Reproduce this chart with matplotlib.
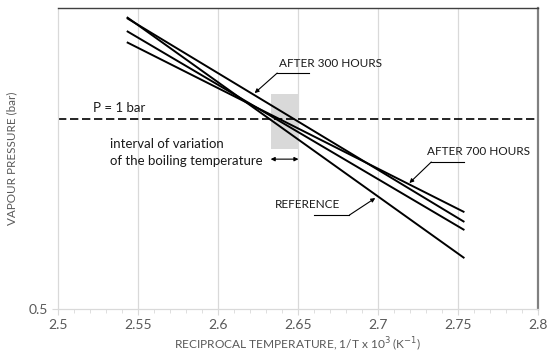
import matplotlib
matplotlib.use("Agg")
import matplotlib.pyplot as plt
import numpy as np
from matplotlib.ticker import FixedLocator, NullFormatter, NullLocator

plt.rcParams['font.family'] = ['Lato', 'DejaVu Sans']

# Data (1/T x 1e3 vs vapour pressure, bar) -- straight lines on log scale
x_start = 2.543
x_end = 2.754
reference = [1.451, 0.602]
after_300 = [1.446, 0.687]
series_c = [1.379, 0.667]
after_700 = [1.324, 0.712]
series = [reference, after_300, series_c, after_700]

x_ticks = [2.5, 2.55, 2.6, 2.65, 2.7, 2.75, 2.8]
x_tick_labels = ['2.5', '2.55', '2.6', '2.65', '2.7', '2.75', '2.8']

box_x = [2.6329, 2.6503]
box_y = [0.896, 1.096]

fig = plt.figure(figsize=(5.5, 3.58), dpi=100)
ax = fig.add_axes([58/550, 1-309/358, (538-58)/550, (309-8)/358])

ax.set_yscale('log')
ax.set_xlim(2.5, 2.8)
ax.set_ylim(0.5, 1.5)

# grid
for xv in x_ticks[1:-1]:
    ax.axvline(xv, color='#d9d9d9', lw=0.9, zorder=0)

# grey interval box
ax.fill_between(box_x, box_y[0], box_y[1], color='#d9d9d9', lw=0, zorder=1)

for s in series:
    ax.plot([x_start, x_end], s, color='black', lw=1.4, zorder=3, solid_capstyle='butt')

ax.axhline(1.0, color='black', lw=1.2, ls=(0, (5, 2.2)), zorder=2)

# ticks
ax.xaxis.set_major_locator(FixedLocator(x_ticks))
ax.set_xticklabels(x_tick_labels)
ax.xaxis.set_minor_locator(FixedLocator(np.round(np.arange(2.5, 2.8001, 0.01), 3)))
ax.yaxis.set_major_locator(FixedLocator([0.5]))
ax.yaxis.set_minor_locator(NullLocator())
ax.yaxis.set_major_formatter(matplotlib.ticker.FixedFormatter(['0.5']))
ax.yaxis.set_minor_formatter(NullFormatter())
ax.tick_params(axis='x', which='major', length=4, color='#d9d9d9', labelsize=10, labelcolor='#595959', pad=3)
ax.tick_params(axis='x', which='minor', length=3, color='#d9d9d9')
ax.tick_params(axis='y', which='major', length=4, color='#d9d9d9', labelsize=10, labelcolor='#595959', pad=3)

for side in ['left', 'bottom']:
    ax.spines[side].set_color('#d9d9d9')
    ax.spines[side].set_linewidth(0.9)
ax.spines['top'].set_color('#404040')
ax.spines['top'].set_linewidth(1.0)
ax.spines['right'].set_color('#808080')
ax.spines['right'].set_linewidth(1.6)

ax.set_xlabel('RECIPROCAL TEMPERATURE, 1/T x 10$^{3}$ (K$^{-1}$)', fontsize=8.6, color='#595959', labelpad=4)
ax.set_ylabel('VAPOUR PRESSURE (bar)', fontsize=8.4, color='#595959', labelpad=8)

tc = '#1a1a1a'
fs = 9.5
fs_caps = 8.5
ax.text(2.5218, 1.04, 'P = 1 bar', fontsize=fs, color=tc, ha='left', va='center')
ax.text(2.5324, 0.9127, 'interval of variation', fontsize=fs, color=tc, ha='left', va='center')
ax.text(2.5324, 0.858, 'of the boiling temperature', fontsize=fs, color=tc, ha='left', va='center')
ax.annotate('', xy=(box_x[0], 0.864), xytext=(box_x[1], 0.864),
            arrowprops=dict(arrowstyle='<|-|>', color='black', lw=0.8, mutation_scale=6, shrinkA=0, shrinkB=0))

ax.text(2.670, 1.2266, 'AFTER 300 HOURS', fontsize=fs_caps, color=tc, ha='center', va='center')
ax.plot([2.657, 2.637], [1.183, 1.183], color='black', lw=0.8)
ax.annotate('', xy=(2.6229, 1.0996), xytext=(2.637, 1.183),
            arrowprops=dict(arrowstyle='-|>', color='black', lw=0.8, mutation_scale=6, shrinkA=0, shrinkB=0))

ax.text(2.7626, 0.8899, 'AFTER 700 HOURS', fontsize=fs_caps, color=tc, ha='center', va='center')
ax.plot([2.7539, 2.7333], [0.855, 0.855], color='black', lw=0.8)
ax.annotate('', xy=(2.7196, 0.7918), xytext=(2.7333, 0.855),
            arrowprops=dict(arrowstyle='-|>', color='black', lw=0.8, mutation_scale=6, shrinkA=0, shrinkB=0))

ax.text(2.656, 0.7333, 'REFERENCE', fontsize=fs_caps, color=tc, ha='center', va='center')
ax.plot([2.6603, 2.6821], [0.7044, 0.7044], color='black', lw=0.8)
ax.annotate('', xy=(2.6983, 0.7496), xytext=(2.6821, 0.7044),
            arrowprops=dict(arrowstyle='-|>', color='black', lw=0.8, mutation_scale=6, shrinkA=0, shrinkB=0))

fig.savefig('out.png', dpi=100)
